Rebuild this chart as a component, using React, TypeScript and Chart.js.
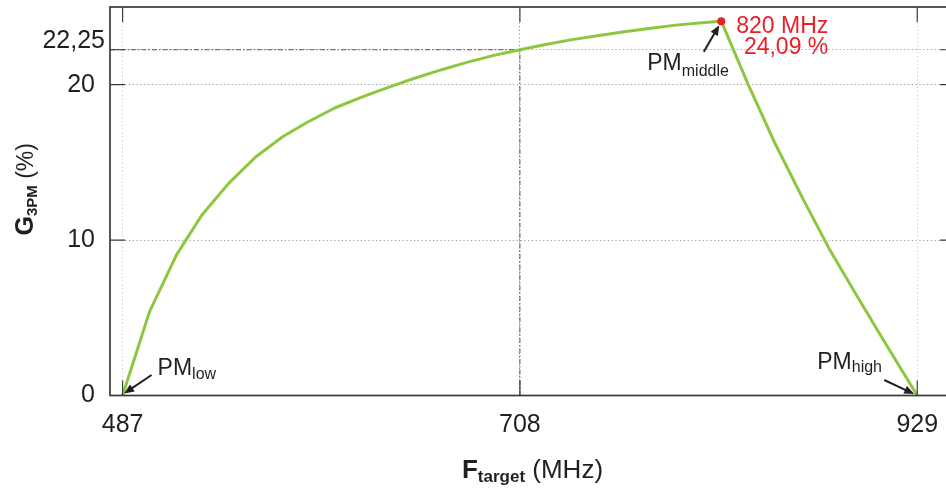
import React, { useEffect, useRef } from 'react';
import { Chart, registerables } from 'chart.js';

Chart.register(...registerables);

// ---- data ----
const riseFreq = [487, 502, 517, 531, 546, 561, 576, 590, 605, 620, 634, 649, 664, 679, 693, 708, 723, 737, 752, 767, 782, 796, 811, 820];
const riseGain = [0, 5.4, 9.05, 11.6, 13.65, 15.35, 16.65, 17.6, 18.5, 19.2, 19.8, 20.4, 20.95, 21.45, 21.87, 22.25, 22.6, 22.9, 23.17, 23.42, 23.65, 23.85, 24.0, 24.09];
const fallFreq = [835, 850, 865, 880, 895, 910, 929];
const fallGain = [20.0, 16.2, 12.75, 9.45, 6.5, 3.6, 0];

const xTickValues = [487, 708, 929];
const yTickValues = [0, 10, 20, 22.25];
const yTickLabels = ['0', '10', '20', '22,25'];

const peakFreq = 820;
const peakGain = 24.09;
const peakLabels = ['820 MHz', '24,09 %'];
const refFreq = 708;
const refGain = 22.25;
const lowFreq = 487;
const highFreq = 929;

const FONT = "'Liberation Sans', Arial, Helvetica, sans-serif";
const TEXT = '#231f20';
const RED = '#e8202a';
const GREEN = '#8dc63f';

function drawArrow(ctx: CanvasRenderingContext2D, x1: number, y1: number, x2: number, y2: number) {
  const ang = Math.atan2(y2 - y1, x2 - x1);
  const hl = 10, hw = 4.2;
  ctx.beginPath();
  ctx.moveTo(x1, y1);
  ctx.lineTo(x2 - hl * 0.7 * Math.cos(ang), y2 - hl * 0.7 * Math.sin(ang));
  ctx.stroke();
  ctx.beginPath();
  ctx.moveTo(x2, y2);
  ctx.lineTo(x2 - hl * Math.cos(ang) + hw * Math.sin(ang), y2 - hl * Math.sin(ang) - hw * Math.cos(ang));
  ctx.lineTo(x2 - hl * Math.cos(ang) - hw * Math.sin(ang), y2 - hl * Math.sin(ang) + hw * Math.cos(ang));
  ctx.closePath();
  ctx.fill();
}

function drawSub(ctx: CanvasRenderingContext2D, x: number, y: number, main: string, sub: string, mainFont: string, subFont: string, subDy: number) {
  ctx.textAlign = 'left';
  ctx.textBaseline = 'alphabetic';
  ctx.font = mainFont;
  ctx.fillText(main, x, y);
  const w = ctx.measureText(main).width;
  ctx.font = subFont;
  ctx.fillText(sub, x + w, y + subDy);
}

const decorPlugin = {
  id: 'decor',
  beforeDatasetsDraw(chart: any) {
    const { ctx, chartArea: a, scales } = chart;
    const xs = scales.x, ys = scales.y;
    const rx = xs.getPixelForValue(refFreq);
    const ry = ys.getPixelForValue(refGain);
    ctx.save();
    ctx.strokeStyle = '#5a5a5a';
    ctx.lineWidth = 1;
    ctx.setLineDash([5, 2, 1.5, 2]);
    ctx.beginPath();
    ctx.moveTo(a.left, ry);
    ctx.lineTo(rx, ry);
    ctx.moveTo(rx, a.bottom);
    ctx.lineTo(rx, ry);
    ctx.stroke();
    ctx.restore();
  },
  afterDraw(chart: any) {
    const { ctx, chartArea: a, scales } = chart;
    const xs = scales.x, ys = scales.y;
    ctx.save();
    // inward ticks
    ctx.strokeStyle = '#3c3c3c';
    ctx.lineWidth = 1.2;
    ctx.setLineDash([]);
    ctx.beginPath();
    xTickValues.forEach(v => {
      const px = xs.getPixelForValue(v);
      ctx.moveTo(px, a.bottom); ctx.lineTo(px, a.bottom - 15);
      ctx.moveTo(px, a.top); ctx.lineTo(px, a.top + 15);
    });
    yTickValues.forEach(v => {
      const py = ys.getPixelForValue(v);
      ctx.moveTo(a.left, py); ctx.lineTo(a.left + 15, py);
      ctx.moveTo(a.right, py); ctx.lineTo(a.right - 15, py);
    });
    ctx.stroke();
    // frame
    ctx.lineWidth = 1.7;
    ctx.strokeStyle = '#3a3a3a';
    ctx.strokeRect(a.left, a.top, a.right - a.left, a.bottom - a.top);

    // annotations
    ctx.fillStyle = TEXT;
    ctx.strokeStyle = TEXT;
    ctx.lineWidth = 2;
    const pl = { x: xs.getPixelForValue(lowFreq), y: ys.getPixelForValue(0) };
    const pm = { x: xs.getPixelForValue(peakFreq), y: ys.getPixelForValue(peakGain) };
    const ph = { x: xs.getPixelForValue(highFreq), y: ys.getPixelForValue(0) };
    drawArrow(ctx, pl.x + 29, pl.y - 20.5, pl.x + 1.5, pl.y - 2);
    drawArrow(ctx, pm.x - 17.5, pm.y + 30.5, pm.x - 2, pm.y + 4);
    drawArrow(ctx, ph.x - 33, ph.y - 15.5, ph.x - 3, ph.y - 1.5);
    const mainF = `23px ${FONT}`;
    const subF = `16px ${FONT}`;
    drawSub(ctx, pl.x + 35, pl.y - 20.5, 'PM', 'low', mainF, subF, 3.5);
    drawSub(ctx, pm.x - 74, pm.y + 49, 'PM', 'middle', mainF, subF, 5.5);
    drawSub(ctx, ph.x - 100, ph.y - 27, 'PM', 'high', mainF, subF, 3.5);

    // peak value labels
    ctx.fillStyle = RED;
    ctx.font = `23px ${FONT}`;
    ctx.textAlign = 'right';
    ctx.textBaseline = 'alphabetic';
    ctx.fillText(peakLabels[0], pm.x + 107, pm.y + 11.5);
    ctx.fillText(peakLabels[1], pm.x + 107, pm.y + 32.5);

    // axis titles
    ctx.fillStyle = TEXT;
    const cx = (a.left + a.right) / 2;
    const fMain = `bold 26px ${FONT}`, fSub = `bold 17px ${FONT}`, fRest = `26px ${FONT}`;
    ctx.textAlign = 'left';
    ctx.font = fMain; const w1 = ctx.measureText('F').width;
    ctx.font = fSub; const w2 = ctx.measureText('target').width;
    ctx.font = fRest; const w3 = ctx.measureText(' (MHz)').width;
    let sx = cx - (w1 + w2 + w3) / 2;
    const by = a.bottom + 82;
    ctx.font = fMain; ctx.fillText('F', sx, by); sx += w1;
    ctx.font = fSub; ctx.fillText('target', sx, by + 4.5); sx += w2;
    ctx.font = fRest; ctx.fillText(' (MHz)', sx, by);

    // y title (rotated)
    const gMain = `bold 25px ${FONT}`, gSub = `bold 15px ${FONT}`, gRest = `23px ${FONT}`;
    ctx.font = gMain; const v1 = ctx.measureText('G').width;
    ctx.font = gSub; const v2 = ctx.measureText('3PM').width;
    ctx.font = gRest; const v3 = ctx.measureText(' (%)').width;
    const cy = (a.top + a.bottom) / 2 - 12;
    ctx.translate(a.left - 77, cy);
    ctx.rotate(-Math.PI / 2);
    let tx = -(v1 + v2 + v3) / 2;
    ctx.font = gMain; ctx.fillText('G', tx, 0); tx += v1;
    ctx.font = gSub; ctx.fillText('3PM', tx, 4); tx += v2;
    ctx.font = gRest; ctx.fillText(' (%)', tx, 0);
    ctx.restore();
  },
};

export default function App() {
  const ref = useRef<HTMLCanvasElement | null>(null);
  useEffect(() => {
    if (!ref.current) return;
    const freqs = [...riseFreq, ...fallFreq];
    const gains = [...riseGain, ...fallGain];
    const points = freqs.map((f, i) => ({ x: f, y: gains[i] }));
    const peakIndex = freqs.indexOf(peakFreq);
    const chart = new Chart(ref.current, {
      type: 'line',
      data: {
        datasets: [
          {
            data: points,
            borderColor: GREEN,
            borderWidth: 3,
            tension: 0,
            fill: false,
            borderJoinStyle: 'round',
            pointRadius: (c: any) => (c.dataIndex === peakIndex ? 4 : 0),
            pointHoverRadius: 0,
            pointBackgroundColor: RED,
            pointBorderWidth: 0,
            pointBorderColor: RED,
          },
        ],
      },
      options: {
        responsive: false,
        animation: false,
        events: [],
        devicePixelRatio: 1,
        layout: { padding: { left: 0, top: 7, right: 15, bottom: 0 } },
        plugins: { legend: { display: false }, tooltip: { enabled: false }, title: { display: false } },
        scales: {
          x: {
            type: 'linear',
            min: 480,
            max: 950,
            afterBuildTicks: (s: any) => { s.ticks = xTickValues.map(v => ({ value: v })); },
            afterFit: (s: any) => { s.height = 93.5; s.paddingLeft = 0; s.paddingRight = 0; },
            grid: {
              drawTicks: false,
              lineWidth: 1,
              color: (c: any) => (c.tick && c.tick.value === refFreq ? '#8a8a8a' : '#c4c4c4'),
            },
            border: { display: false, dash: [1.2, 2.6] },
            ticks: {
              padding: 15,
              autoSkip: false,
              maxRotation: 0,
              color: TEXT,
              font: { family: FONT, size: 25 },
              callback: (v: any) => String(v),
            },
          },
          y: {
            type: 'linear',
            min: 0,
            max: 25,
            afterBuildTicks: (s: any) => { s.ticks = yTickValues.map(v => ({ value: v })); },
            afterFit: (s: any) => { s.width = 110; s.paddingTop = 0; s.paddingBottom = 0; },
            grid: { drawTicks: false, lineWidth: 1, color: '#9a9a9a' },
            border: { display: false, dash: [1.2, 2.6] },
            ticks: {
              padding: 5,
              autoSkip: false,
              color: TEXT,
              font: (c: any) => ({
                family: FONT,
                size: 25,
                lineHeight: c.tick && c.tick.value === refGain ? '17.6px' : 1.2,
              }),
              callback: (v: any) => {
                const i = yTickValues.indexOf(Number(v));
                const lab = i >= 0 ? yTickLabels[i] : String(v);
                return Number(v) === refGain ? [lab, ''] : lab + '\u2009\u2009';
              },
            },
          },
        },
      },
      plugins: [decorPlugin],
    } as any);
    return () => chart.destroy();
  }, []);
  return (
    <div style={{ position: 'fixed', left: 0, top: 0, width: 946, height: 489, overflow: 'hidden', background: '#fff' }}>
      <canvas ref={ref} width={970} height={489} style={{ width: 970, height: 489, display: 'block' }} />
    </div>
  );
}
